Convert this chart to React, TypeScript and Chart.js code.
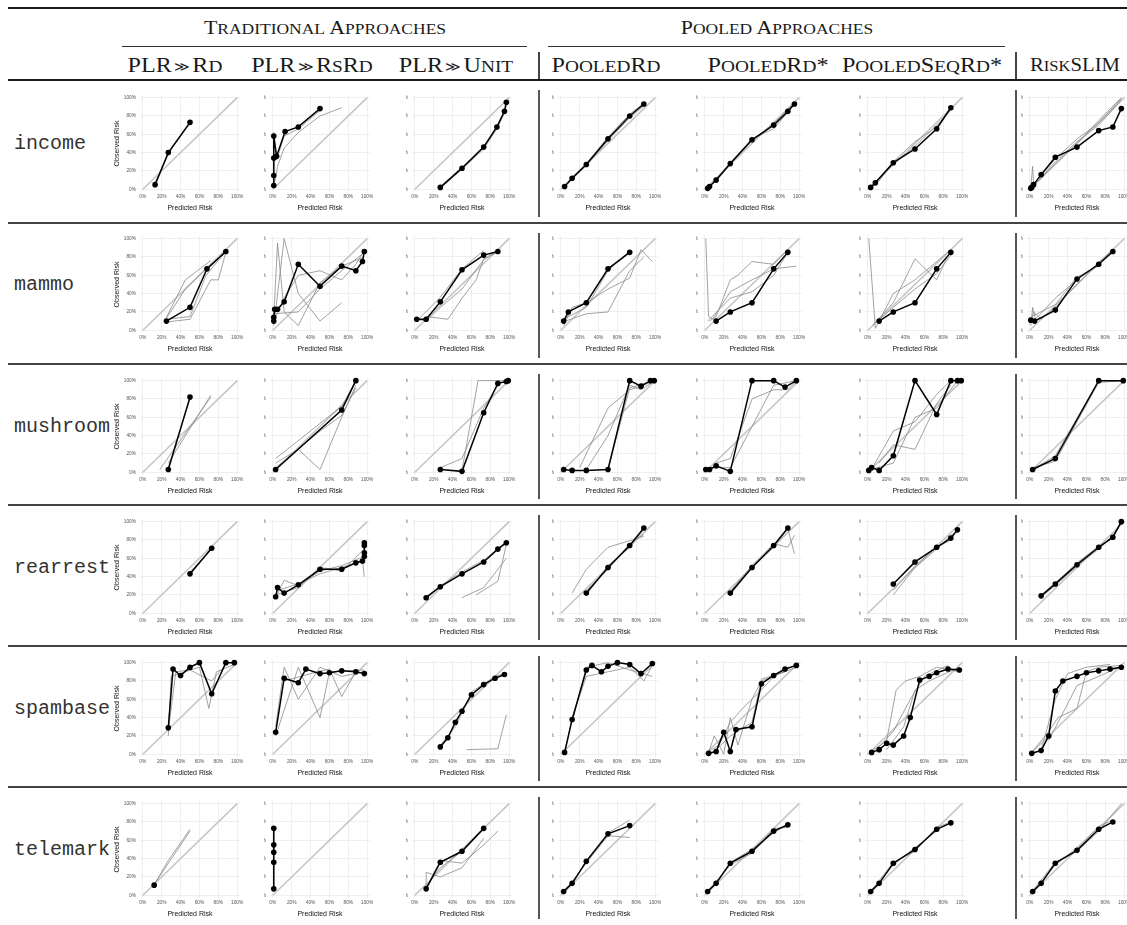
import React, { useEffect, useRef } from "react";
import { Chart, registerables } from "chart.js";

Chart.register(...registerables);

// ---------- labels ----------
const rowNames = ["income", "mammo", "mushroom", "rearrest", "spambase", "telemark"];
const methodNames = ["PLR≫Rd", "PLR≫RsRd", "PLR≫Unit", "PooledRd", "PooledRd*", "PooledSeqRd*", "RiskSLIM"];
const groupNames = ["Traditional Approaches", "Pooled Approaches"];
const tickValues = [0, 20, 40, 60, 80, 100];
const xTitle = "Predicted Risk";
const yTitle = "Observed Risk";

type Pts = number[][];

// ---------- data: [predicted %, observed %] ----------
const incomeMain: Pts[] = [
  [[13, 5], [27, 40], [50, 73]],
  [[1, 4], [1, 15], [1, 34], [1, 58], [4, 36], [13, 63], [27, 68], [50, 88]],
  [[27, 2], [50, 23], [73, 46], [87, 68], [95, 85], [97, 95]],
  [[4, 3], [12, 12], [27, 27], [50, 55], [73, 80], [88, 93]],
  [[3, 1], [5, 3], [12, 10], [27, 28], [50, 54], [73, 70], [88, 85], [95, 93]],
  [[3, 2], [8, 7], [27, 29], [50, 44], [73, 66], [88, 89]],
  [[1, 1], [2, 2], [4, 5], [12, 16], [27, 35], [50, 46], [73, 64], [88, 68], [97, 88]],
];
const incomeFolds: Pts[][] = [
  [[[12, 5], [27, 39], [52, 75]], [[13, 6], [28, 41], [50, 72]]],
  [[[1, 6], [1, 62], [4, 32], [12, 58], [27, 66], [50, 86]], [[1, 2], [5, 25], [12, 45], [27, 62], [50, 80], [73, 89]]],
  [[[27, 3], [50, 24], [73, 47], [88, 70], [96, 88], [98, 97]], [[27, 1], [50, 22], [73, 44], [87, 66], [95, 83], [97, 94]]],
  [[[4, 4], [12, 13], [27, 28], [50, 57], [73, 82], [88, 94]], [[4, 3], [12, 11], [27, 26], [50, 53], [73, 78], [88, 91]]],
  [[[3, 1], [12, 11], [27, 29], [50, 55], [73, 66], [88, 84], [95, 94]], [[3, 2], [12, 9], [27, 27], [50, 53], [73, 72], [88, 87], [95, 95]]],
  [[[3, 2], [12, 9], [27, 30], [50, 52], [73, 68], [88, 89]], [[3, 3], [12, 11], [27, 27], [50, 47], [73, 70], [88, 86]]],
  [[[1, 2], [3, 25], [4, 6], [12, 15], [27, 33], [50, 55], [73, 72], [97, 99]], [[1, 1], [4, 4], [12, 13], [27, 30], [50, 52], [73, 70], [97, 97]], [[2, 3], [12, 12], [27, 28], [50, 50], [73, 75], [97, 100]]],
];

const mammoMain: Pts[] = [
  [[25, 10], [50, 25], [68, 67], [88, 86]],
  [[1, 10], [1, 14], [2, 23], [5, 23], [12, 31], [27, 72], [50, 48], [73, 70], [88, 65], [95, 75], [97, 86]],
  [[2, 12], [12, 12], [27, 31], [50, 66], [73, 82], [88, 86]],
  [[3, 10], [8, 20], [27, 30], [50, 67], [73, 85]],
  [[12, 10], [27, 20], [50, 30], [73, 67], [88, 85]],
  [[12, 10], [27, 20], [50, 30], [73, 67], [88, 85]],
  [[1, 11], [5, 10], [27, 22], [50, 56], [73, 72], [88, 86]],
];
const mammoFolds: Pts[][] = [
  [[[25, 13], [45, 45], [72, 72], [88, 86]], [[25, 14], [45, 55], [72, 76]], [[25, 12], [50, 15], [67, 60], [88, 86]], [[25, 9], [50, 12], [72, 55], [80, 55], [88, 85]]],
  [[[1, 5], [12, 100], [27, 40], [50, 10], [73, 30]], [[1, 15], [5, 95], [12, 20], [27, 5], [50, 52], [73, 70], [97, 80]], [[1, 10], [12, 35], [27, 60], [50, 65], [73, 55], [88, 72], [97, 87]], [[1, 18], [27, 20], [50, 45], [73, 65], [97, 85]]],
  [[[2, 12], [12, 10], [27, 25], [50, 45], [73, 77], [88, 88]], [[2, 10], [27, 36], [50, 67], [73, 87]], [[12, 15], [35, 12], [50, 35], [65, 55], [73, 78], [88, 85]]],
  [[[3, 5], [12, 25], [27, 30], [50, 45], [73, 57], [85, 88], [97, 75]], [[5, 10], [27, 18], [50, 20], [73, 65], [88, 80]], [[3, 12], [27, 25], [50, 65], [73, 87]]],
  [[[1, 100], [4, 15], [8, 12], [27, 42], [50, 55], [73, 67], [97, 70]], [[5, 10], [12, 15], [27, 55], [35, 60], [50, 75], [73, 72], [88, 88]], [[3, 10], [27, 35], [50, 42], [73, 60], [88, 85]]],
  [[[1, 100], [8, 2], [12, 10], [27, 40], [50, 55], [73, 75], [88, 88]], [[5, 5], [27, 30], [50, 78], [73, 55], [88, 88]], [[8, 8], [27, 25], [50, 45], [73, 62], [88, 82]]],
  [[[1, 5], [3, 25], [6, 12], [27, 35], [50, 55], [73, 72], [88, 85]], [[1, 8], [4, 20], [12, 12], [27, 25], [50, 50], [73, 74], [88, 88]], [[2, 15], [27, 28], [50, 58], [73, 70]]],
];

const mushroomMain: Pts[] = [
  [[27, 3], [50, 82]],
  [[3, 3], [73, 68], [88, 100]],
  [[27, 3], [50, 1], [73, 65], [88, 97], [97, 99], [99, 100]],
  [[3, 3], [12, 2], [27, 2], [50, 3], [73, 100], [85, 94], [95, 100], [99, 100]],
  [[1, 3], [5, 3], [12, 7], [27, 1], [50, 100], [73, 100], [85, 93], [97, 100]],
  [[1, 2], [4, 5], [12, 2], [27, 18], [50, 100], [73, 63], [88, 100], [95, 100], [99, 100]],
  [[3, 3], [27, 15], [73, 100], [99, 100]],
];
const mushroomFolds: Pts[][] = [
  [[[18, 3], [72, 82]], [[27, 10], [72, 84]], [[27, 5], [50, 80]]],
  [[[3, 10], [27, 25], [50, 3], [73, 60], [88, 95]], [[3, 5], [50, 45], [73, 62], [88, 92]], [[3, 15], [73, 72], [88, 100]]],
  [[[50, 2], [67, 100], [97, 100]], [[27, 5], [50, 15], [73, 70], [88, 95]]],
  [[[20, 5], [50, 70], [73, 90], [88, 95], [97, 100]], [[50, 3], [73, 92], [88, 97], [97, 98]], [[27, 3], [50, 40], [73, 95], [85, 90], [99, 100]]],
  [[[5, 5], [27, 5], [50, 50], [73, 95], [97, 100]], [[12, 10], [27, 15], [50, 80], [73, 90], [88, 90], [97, 100]]],
  [[[5, 5], [27, 45], [50, 55], [73, 85], [88, 100]], [[12, 10], [27, 30], [50, 25], [73, 75], [88, 95]], [[3, 3], [27, 10], [50, 60], [73, 70], [95, 100]]],
  [[[3, 3], [27, 18], [73, 100]], [[3, 5], [27, 12], [73, 98], [99, 100]]],
];

const rearrestMain: Pts[] = [
  [[50, 43], [73, 71]],
  [[3, 18], [5, 28], [12, 22], [27, 31], [50, 48], [73, 48], [88, 55], [95, 57], [97, 62], [97, 66], [97, 74], [97, 77]],
  [[12, 17], [27, 29], [50, 43], [73, 56], [88, 70], [97, 77]],
  [[27, 22], [50, 50], [73, 74], [88, 93]],
  [[27, 22], [50, 50], [73, 74], [88, 93]],
  [[27, 32], [50, 56], [73, 72], [88, 82], [95, 91]],
  [[12, 19], [27, 32], [50, 53], [73, 72], [88, 83], [97, 100]],
];
const rearrestFolds: Pts[][] = [
  [[[50, 45], [73, 70]], [[50, 42], [73, 72]]],
  [[[3, 17], [12, 36], [27, 30], [50, 46], [73, 52], [97, 62]], [[5, 25], [27, 32], [50, 43], [73, 50], [95, 58], [97, 40]], [[3, 20], [27, 28], [50, 50], [73, 46], [97, 70]]],
  [[[50, 17], [73, 28], [97, 60]], [[65, 20], [88, 35], [97, 75]], [[12, 18], [27, 30], [50, 45], [73, 58], [97, 78]]],
  [[[12, 22], [27, 48], [50, 72], [88, 84]], [[27, 20], [50, 52], [73, 72], [88, 92]], [[27, 25], [50, 48], [73, 76], [88, 86]]],
  [[[27, 20], [50, 50], [73, 72], [88, 92], [95, 65]], [[27, 24], [50, 52], [73, 76], [88, 72], [95, 85]]],
  [[[27, 25], [50, 52], [73, 72], [88, 80]], [[27, 20], [50, 50], [73, 70], [88, 85], [95, 90]]],
  [[[12, 18], [27, 30], [50, 52], [73, 70], [88, 85], [97, 98]], [[12, 20], [27, 33], [50, 55], [73, 73], [88, 82]]],
];

const spambaseMain: Pts[] = [
  [[27, 29], [32, 93], [40, 86], [50, 95], [60, 100], [73, 66], [88, 100], [97, 100]],
  [[3, 24], [12, 83], [27, 78], [35, 93], [50, 88], [60, 89], [73, 91], [88, 90], [97, 88]],
  [[27, 8], [35, 18], [43, 35], [50, 47], [60, 65], [73, 76], [85, 83], [95, 87]],
  [[4, 2], [12, 38], [27, 92], [33, 97], [43, 90], [50, 96], [60, 100], [73, 98], [85, 88], [97, 99]],
  [[4, 1], [12, 3], [20, 24], [27, 3], [33, 27], [50, 30], [60, 77], [73, 86], [85, 93], [97, 97]],
  [[4, 2], [12, 5], [20, 12], [27, 10], [38, 20], [45, 40], [55, 81], [65, 85], [73, 89], [85, 93], [97, 92]],
  [[2, 1], [12, 4], [20, 20], [27, 69], [35, 80], [50, 85], [60, 89], [73, 91], [85, 93], [97, 95]],
];
const spambaseFolds: Pts[][] = [
  [[[27, 20], [30, 85], [45, 90], [60, 95], [70, 50], [78, 90], [97, 98]], [[27, 25], [35, 90], [50, 92], [73, 80], [88, 98]]],
  [[[3, 30], [12, 95], [27, 60], [50, 95], [73, 85], [97, 90]], [[3, 20], [27, 95], [50, 40], [60, 90], [97, 92]], [[12, 80], [40, 88], [60, 93], [73, 63], [88, 90]]],
  [[[55, 5], [88, 6], [97, 43]], [[27, 10], [43, 30], [60, 68], [85, 85], [95, 88]]],
  [[[5, 5], [12, 40], [27, 85], [50, 90], [73, 95], [88, 80], [97, 97]], [[12, 35], [27, 95], [50, 100], [73, 92], [97, 85]]],
  [[[4, 2], [10, 20], [20, 0], [27, 40], [35, 10], [50, 60], [60, 80], [97, 95]], [[4, 3], [15, 10], [27, 35], [40, 50], [60, 70], [73, 85], [97, 98]], [[12, 5], [27, 20], [50, 35], [60, 82], [85, 90]]],
  [[[4, 3], [20, 15], [30, 70], [40, 80], [55, 85], [73, 95], [97, 90]], [[12, 8], [27, 25], [45, 60], [60, 85], [85, 97]], [[20, 5], [38, 30], [50, 70], [65, 80], [97, 95]]],
  [[[2, 2], [20, 25], [30, 40], [50, 50], [60, 90], [73, 95], [97, 97]], [[12, 5], [27, 60], [40, 88], [60, 95], [85, 98]], [[20, 15], [35, 45], [50, 75], [73, 85], [97, 96]]],
];

const telemarkMain: Pts[] = [
  [[12, 11]],
  [[1, 7], [1, 36], [1, 47], [1, 55], [1, 73]],
  [[12, 7], [27, 36], [50, 48], [73, 73]],
  [[3, 4], [12, 13], [27, 37], [50, 67], [73, 76]],
  [[3, 4], [12, 13], [27, 35], [50, 48], [73, 70], [88, 77]],
  [[3, 4], [12, 13], [27, 35], [50, 50], [73, 72], [88, 79]],
  [[3, 4], [12, 13], [27, 35], [50, 49], [73, 72], [88, 80]],
];
const telemarkFolds: Pts[][] = [
  [[[12, 11], [27, 38], [50, 72]], [[12, 12], [50, 70]]],
  [[[1, 8], [1, 72]]],
  [[[12, 7], [12, 25], [27, 20], [50, 30], [73, 62]], [[12, 10], [27, 30], [50, 48], [73, 73]], [[12, 8], [27, 38], [50, 35], [73, 55], [88, 70]]],
  [[[3, 5], [12, 15], [27, 35], [50, 65], [73, 63]], [[3, 3], [12, 12], [27, 38], [50, 68], [73, 82]]],
  [[[3, 4], [12, 14], [27, 36], [50, 50], [73, 68], [88, 78]], [[3, 5], [27, 33], [50, 46], [73, 73], [88, 74]]],
  [[[3, 4], [27, 36], [50, 48], [73, 74], [88, 80]], [[3, 5], [12, 14], [27, 33], [50, 52], [73, 70]]],
  [[[3, 5], [27, 36], [50, 48], [73, 70], [97, 100]], [[3, 4], [12, 14], [27, 33], [50, 52], [73, 75], [88, 82]]],
];

const allMain = [incomeMain, mammoMain, mushroomMain, rearrestMain, spambaseMain, telemarkMain];
const allFolds = [incomeFolds, mammoFolds, mushroomFolds, rearrestFolds, spambaseFolds, telemarkFolds];

// ---------- layout ----------
const GX = [143, 273, 415, 561, 705, 868, 1030]; // x of 0% gridline per column
const GY = [97, 238, 380, 521, 662, 803]; // y of 100% gridline per row
const ROW_RULES = [223, 364, 505, 646, 787];
const ROW_TOPS = [80, 223, 364, 505, 646, 787];
const V_BARS = [539, 1016];
const AX_MIN = -3;
const AX_MAX = 103;
const Y_W = 27;
const PAD_T = 6;
const PAD_R = 10;
const AREA_W = 100;
const AREA_H = 98;
const X_H = 20;
const CW = Y_W + AREA_W + PAD_R;
const CH = PAD_T + AREA_H + X_H;

const SANS = "'Liberation Sans', Arial, sans-serif";
const SERIF = "'Liberation Serif', 'Times New Roman', serif";
const MONO = "'Liberation Mono', 'DejaVu Sans Mono', monospace";

const toXY = (pts: Pts) => pts.map(([x, y]) => ({ x, y }));

function Cell({ row, col }: { row: number; col: number }) {
  const ref = useRef<HTMLCanvasElement>(null);
  useEffect(() => {
    const canvas = ref.current;
    if (!canvas) return;
    const main = allMain[row][col];
    const folds = allFolds[row][col];
    const datasets: any[] = [
      {
        data: toXY(main),
        showLine: true,
        borderColor: "#000",
        borderWidth: 1.5,
        pointRadius: 2.8,
        pointBackgroundColor: "#000",
        pointBorderWidth: 0,
        clip: false,
      },
      ...folds.map((f) => ({
        data: toXY(f),
        showLine: true,
        borderColor: "#8a8a8a",
        borderWidth: 0.8,
        pointRadius: 0,
        clip: false,
      })),
      {
        data: [{ x: 0, y: 0 }, { x: 100, y: 100 }],
        showLine: true,
        borderColor: "#c6c6c6",
        borderWidth: 1.6,
        pointRadius: 0,
      },
    ];
    const axisBase = (isX: boolean) => ({
      type: "linear" as const,
      min: AX_MIN,
      max: AX_MAX,
      afterBuildTicks: (a: any) => {
        a.ticks = tickValues.map((v) => ({ value: v }));
      },
      afterFit: (s: any) => {
        if (isX) s.height = X_H;
        else s.width = Y_W;
      },
      grid: { color: "#ebebeb", lineWidth: 0.8, drawTicks: false },
      border: { display: false },
      ticks: {
        padding: isX ? 2 : 4,
        autoSkip: false,
        maxRotation: 0,
        color: "#555",
        font: { family: SANS, size: 4.8 },
        callback: (v: any) => v + "%",
      },
      title: {
        display: true,
        text: isX ? xTitle : yTitle,
        color: "#111",
        font: { family: SANS, size: 7 },
        padding: 0,
      },
    });
    const chart = new Chart(canvas, {
      type: "scatter",
      data: { datasets },
      options: {
        responsive: false,
        animation: false,
        events: [],
        layout: { padding: { top: PAD_T, right: PAD_R, left: 0, bottom: 0 } },
        plugins: { legend: { display: false }, tooltip: { enabled: false } },
        scales: { x: axisBase(true) as any, y: axisBase(false) as any },
      },
    });
    return () => chart.destroy();
  }, [row, col]);

  const canvasLeft = GX[col] - 30;
  const canvasTop = GY[row] - 3 - PAD_T;
  const clipLeft = col === 0 ? canvasLeft : GX[col] - 9;
  return (
    <div
      style={{
        position: "absolute",
        left: clipLeft,
        top: canvasTop,
        width: canvasLeft + CW - clipLeft,
        height: CH,
        overflow: "hidden",
      }}
    >
      <canvas
        ref={ref}
        width={CW}
        height={CH}
        style={{ position: "absolute", left: canvasLeft - clipLeft, top: 0, width: CW, height: CH }}
      />
    </div>
  );
}

// small caps rendered by hand: lowercase letters become smaller capitals
function SmallCaps({ text, sc }: { text: string; sc: number }) {
  const parts: React.ReactNode[] = [];
  let i = 0;
  const isLower = (c: string) => c >= "a" && c <= "z";
  while (i < text.length) {
    const ch = text[i];
    if (ch === "≫") {
      parts.push(
        <span key={i} style={{ fontSize: "0.6em", margin: "0 0.15em", position: "relative", top: "-0.12em" }}>
          ≫
        </span>
      );
      i++;
      continue;
    }
    const lower = isLower(ch);
    let j = i;
    while (j < text.length && text[j] !== "≫" && isLower(text[j]) === lower) j++;
    const seg = text.slice(i, j);
    parts.push(
      lower ? (
        <span key={i} style={{ fontSize: sc + "em" }}>
          {seg.toUpperCase()}
        </span>
      ) : (
        <span key={i}>{seg}</span>
      )
    );
    i = j;
  }
  return <>{parts}</>;
}

const HEADER_CENTERS = [175, 312, 456, 606, 768, 922, 1075];
const HEADER_SIZES = [21, 21, 21, 21, 21, 21, 18];
const GROUP_SPANS = [
  [122, 527],
  [548, 1005],
];

function Rule({ x1, x2, y, h, color }: { x1: number; x2: number; y: number; h: number; color: string }) {
  return <div style={{ position: "absolute", left: x1, top: y, width: x2 - x1, height: h, background: color }} />;
}

export default function App() {
  const cells: React.ReactElement[] = [];
  for (let r = 0; r < rowNames.length; r++) {
    for (let c = 0; c < methodNames.length; c++) {
      cells.push(<Cell key={`${r}-${c}`} row={r} col={c} />);
    }
  }
  return (
    <div
      style={{
        position: "absolute",
        left: 0,
        top: 0,
        width: 1127,
        height: 925,
        overflow: "hidden",
        background: "#fff",
      }}
    >
      {/* header rules */}
      <Rule x1={8} x2={1127} y={7} h={2} color="#1a1a1a" />
      {GROUP_SPANS.map(([a, b], i) => (
        <Rule key={"g" + i} x1={a} x2={b} y={46} h={1} color="#333" />
      ))}
      <Rule x1={8} x2={1127} y={79} h={2} color="#1a1a1a" />
      {V_BARS.map((x, i) => (
        <div key={"hb" + i} style={{ position: "absolute", left: x - 1, top: 52, width: 1.5, height: 27, background: "#444" }} />
      ))}
      {groupNames.map((g, i) => (
        <div
          key={"gn" + i}
          style={{
            position: "absolute",
            left: (GROUP_SPANS[i][0] + GROUP_SPANS[i][1]) / 2,
            top: 27,
            transform: "translate(-50%, -50%) scaleX(1.15)",
            fontFamily: SERIF,
            fontSize: 19,
            lineHeight: 1,
            whiteSpace: "nowrap",
            color: "#1a1a1a",
          }}
        >
          <SmallCaps text={g} sc={0.8} />
        </div>
      ))}
      {methodNames.map((m, i) => (
        <div
          key={"mn" + i}
          style={{
            position: "absolute",
            left: HEADER_CENTERS[i],
            top: 65,
            transform: "translate(-50%, -50%) scaleX(1.15)",
            fontFamily: SERIF,
            fontSize: HEADER_SIZES[i],
            lineHeight: 1,
            whiteSpace: "nowrap",
            color: "#1a1a1a",
          }}
        >
          <SmallCaps text={m} sc={0.8} />
        </div>
      ))}
      {/* row rules */}
      {ROW_RULES.map((y, i) => (
        <Rule key={"rr" + i} x1={8} x2={1127} y={y - 1} h={2} color="#444" />
      ))}
      {/* vertical bars in body */}
      {ROW_TOPS.map((t, i) => {
        const bottom = i + 1 < ROW_TOPS.length ? ROW_TOPS[i + 1] : 925;
        return V_BARS.map((x, j) => (
          <div
            key={`vb${i}-${j}`}
            style={{ position: "absolute", left: x - 1, top: t + 10, width: 2, height: bottom - t - 16, background: "#555" }}
          />
        ));
      })}
      {/* row labels */}
      {rowNames.map((n, i) => (
        <div
          key={"rn" + i}
          style={{
            position: "absolute",
            left: 14,
            top: GY[i] + 46,
            transform: "translateY(-50%)",
            fontFamily: MONO,
            fontSize: 20,
            color: "#333",
            whiteSpace: "nowrap",
          }}
        >
          {n}
        </div>
      ))}
      {cells}
    </div>
  );
}
